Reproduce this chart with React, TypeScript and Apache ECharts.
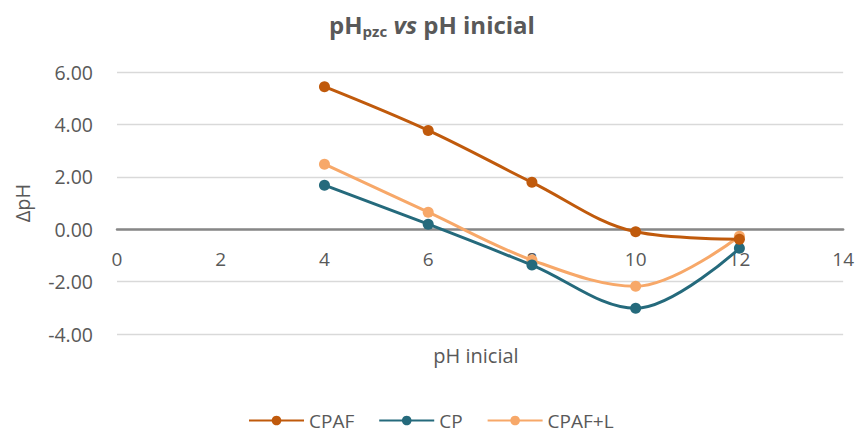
import React, { useEffect, useRef } from "react";
import * as echarts from "echarts";

const xValues = [4, 6, 8, 10, 12];
const cpaf = [5.44, 3.77, 1.79, -0.1, -0.38];
const cp = [1.68, 0.19, -1.37, -3.02, -0.73];
const cpafL = [2.48, 0.65, -1.18, -2.18, -0.27];
const seriesNames = ["CPAF", "CP", "CPAF+L"];
const colors = ["#C05A0C", "#256A7C", "#F7A869"];

const pair = (ys: number[]) => xValues.map((x, i) => [x, ys[i]]);

export default function App() {
  const ref = useRef<HTMLDivElement>(null);
  useEffect(() => {
    if (!ref.current) return;
    const chart = echarts.init(ref.current, null, { renderer: "svg" });
    const font = "'Open Sans', sans-serif";
    const grey = "#595959";
    const all = [cpaf, cp, cpafL];
    chart.setOption({
      animation: false,
      textStyle: { fontFamily: font },
      title: {
        text: "{b|pH}{s|pzc}{b| }{i|vs}{b| pH inicial}",
        left: 427,
        top: 5,
        textAlign: "center",
        textStyle: {
          rich: {
            b: { fontSize: 24, fontWeight: "bold", color: grey, fontFamily: font },
            s: { fontSize: 15, fontWeight: "bold", color: grey, fontFamily: font, padding: [13, 0, 0, 0] },
            i: { fontSize: 24, fontWeight: "bold", fontStyle: "italic", color: grey, fontFamily: font },
          },
        },
      },
      grid: { left: 117, right: 12, top: 72, bottom: 100 },
      legend: {
        top: 411,
        left: 248,
        padding: 0,
        itemWidth: 55,
        itemHeight: 12,
        itemGap: 24,
        textStyle: { color: grey, fontSize: 19, fontFamily: font },
        data: seriesNames,
      },
      xAxis: {
        type: "value",
        min: 0,
        max: 14,
        interval: 2,
        axisLine: { onZero: false, lineStyle: { color: "#878787", width: 2.5 } },
        offset: -105,
        axisTick: { show: false },
        splitLine: { show: false },
        axisLabel: { color: grey, fontSize: 19, margin: 20, fontFamily: font },
      },
      yAxis: {
        type: "value",
        min: -4,
        max: 6,
        interval: 2,
        axisLine: { show: false },
        axisTick: { show: false },
        splitLine: { lineStyle: { color: "#D9D9D9", width: 1.3 } },
        axisLabel: {
          color: grey,
          fontSize: 19.5,
          margin: 24,
          fontFamily: font,
          formatter: (v: number) => v.toFixed(2),
        },
      },
      graphic: [
        {
          type: "text",
          x: 476,
          y: 355,
          style: { text: "pH inicial", fill: grey, fontSize: 20, fontFamily: font, align: "center", verticalAlign: "middle" },
        },
        {
          type: "text",
          x: 22,
          y: 203,
          rotation: Math.PI / 2,
          style: { text: "ΔpH", fill: grey, fontSize: 20, fontFamily: font, align: "center", verticalAlign: "middle" },
        },
      ],
      series: seriesNames.map((name, i) => ({
        name,
        type: "line",
        data: pair(all[i]),
        smooth: 0.35,
        symbol: "circle",
        symbolSize: 11,
        color: colors[i],
        lineStyle: { width: 3, color: colors[i] },
        itemStyle: { color: colors[i] },
        z: 3 - i,
      })),
    });
    return () => chart.dispose();
  }, []);
  return (
    <div
      ref={ref}
      style={{ width: 857, height: 434, position: "absolute", left: 0, top: 0 }}
    />
  );
}
